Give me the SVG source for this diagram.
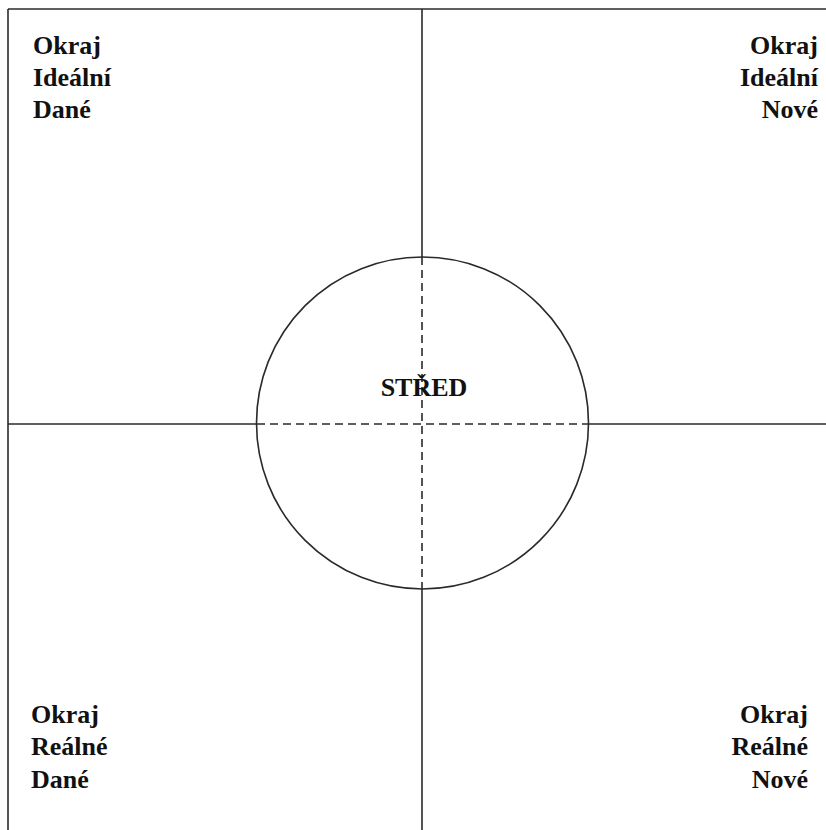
<svg xmlns="http://www.w3.org/2000/svg" width="826" height="830" viewBox="0 0 826 830">
<style>
.ln{stroke:#2a2a2a;stroke-width:1.6;fill:none}
.ds{stroke:#2a2a2a;stroke-width:1.6;fill:none;stroke-dasharray:8 5}
.t{font-family:"Liberation Serif","Times New Roman",serif;font-weight:bold;font-size:26px;fill:#111}
.r{text-anchor:end}
</style>
<rect width="826" height="830" fill="#fff"/>
<g id="connectors">
<line class="ln" x1="8" y1="9" x2="826" y2="9"/>
<line class="ln" x1="8" y1="9" x2="8" y2="830"/>
<line class="ln" x1="422" y1="9" x2="422" y2="257"/>
<line class="ln" x1="422" y1="589" x2="422" y2="830"/>
<line class="ln" x1="8" y1="424" x2="257" y2="424"/>
<line class="ln" x1="588" y1="424" x2="826" y2="424"/>
<line class="ds" x1="422" y1="257" x2="422" y2="589"/>
<line class="ds" x1="257" y1="424" x2="588" y2="424"/>
</g>
<g id="stred">
<circle class="ln" cx="422.5" cy="423" r="166"/>
<text class="t" x="424" y="396" text-anchor="middle">STŘED</text>
</g>
<g id="ideal-dane">
<text class="t" x="33" y="54">Okraj</text>
<text class="t" x="33" y="86">Ideální</text>
<text class="t" x="33" y="118">Dané</text>
</g>
<g id="ideal-nove">
<text class="t r" x="818" y="54">Okraj</text>
<text class="t r" x="818" y="86">Ideální</text>
<text class="t r" x="818" y="118">Nové</text>
</g>
<g id="realne-dane">
<text class="t" x="31" y="723">Okraj</text>
<text class="t" x="31" y="755">Reálné</text>
<text class="t" x="31" y="788">Dané</text>
</g>
<g id="realne-nove">
<text class="t r" x="808" y="723">Okraj</text>
<text class="t r" x="808" y="755">Reálné</text>
<text class="t r" x="808" y="788">Nové</text>
</g>
</svg>
